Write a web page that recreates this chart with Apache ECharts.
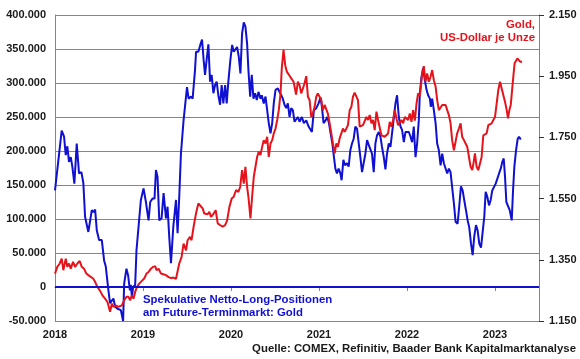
<!DOCTYPE html>
<html><head><meta charset="utf-8">
<script src="https://cdn.jsdelivr.net/npm/echarts@6/dist/echarts.min.js"></script>
<style>html,body{margin:0;padding:0;background:#fff}#c{width:580px;height:359px}</style>
</head><body><div id="c"></div>
<script>
// ---- data ----
const yearTicks = [2018, 2019, 2020, 2021, 2022, 2023];
const leftMin = -50000, leftMax = 400000, leftStep = 50000;
const goldTicks = [1150, 1350, 1550, 1750, 1950, 2150];
const goldLabel = 'Gold,\nUS-Dollar je Unze';
const netLongLabel = 'Spekulative Netto-Long-Positionen\nam Future-Terminmarkt: Gold';
const sourceLabel = 'Quelle: COMEX, Refinitiv, Baader Bank Kapitalmarktanalyse';

// [year, net long positions in thousands of contracts]
const netLongThousands = [[2018.000,142],[2018.076,230],[2018.103,221],[2018.122,194],[2018.140,207],[2018.159,184],[2018.179,191],[2018.197,177],[2018.220,152],[2018.247,211],[2018.273,167],[2018.300,169],[2018.322,153],[2018.342,103],[2018.356,101],[2018.379,81],[2018.395,79],[2018.418,113],[2018.436,110],[2018.456,114],[2018.475,83],[2018.501,69],[2018.532,69],[2018.558,39],[2018.577,30],[2018.607,-5],[2018.626,-24],[2018.646,-20],[2018.664,-17],[2018.683,-29],[2018.710,-32],[2018.748,-34],[2018.774,-50],[2018.786,5],[2018.812,27],[2018.831,17],[2018.851,-5],[2018.862,3],[2018.874,-15],[2018.888,0],[2018.911,3],[2018.926,54],[2018.949,88],[2018.976,128],[2019.006,145],[2019.033,125],[2019.063,98],[2019.082,125],[2019.108,130],[2019.131,130],[2019.147,172],[2019.165,162],[2019.185,98],[2019.211,101],[2019.234,138],[2019.261,101],[2019.279,118],[2019.298,74],[2019.318,35],[2019.344,88],[2019.375,128],[2019.393,79],[2019.412,133],[2019.431,196],[2019.461,245],[2019.500,294],[2019.518,277],[2019.546,280],[2019.564,277],[2019.591,319],[2019.603,346],[2019.629,346],[2019.651,356],[2019.671,364],[2019.689,334],[2019.705,312],[2019.723,334],[2019.743,357],[2019.762,302],[2019.780,312],[2019.800,285],[2019.819,297],[2019.837,302],[2019.856,282],[2019.876,268],[2019.894,297],[2019.913,270],[2019.933,297],[2019.951,270],[2019.970,302],[2019.993,334],[2020.013,356],[2020.031,346],[2020.050,348],[2020.069,353],[2020.088,339],[2020.107,314],[2020.126,373],[2020.145,389],[2020.164,383],[2020.183,358],[2020.198,319],[2020.218,280],[2020.236,312],[2020.255,277],[2020.274,285],[2020.293,275],[2020.312,287],[2020.335,277],[2020.350,282],[2020.372,270],[2020.392,280],[2020.411,260],[2020.429,241],[2020.449,226],[2020.468,241],[2020.486,270],[2020.506,290],[2020.532,292],[2020.551,290],[2020.571,282],[2020.589,277],[2020.608,268],[2020.628,263],[2020.646,270],[2020.665,250],[2020.684,263],[2020.703,260],[2020.722,243],[2020.760,250],[2020.779,243],[2020.805,250],[2020.828,241],[2020.855,245],[2020.882,236],[2020.904,238],[2020.919,228],[2020.942,260],[2020.969,263],[2020.995,270],[2021.018,279],[2021.033,265],[2021.052,241],[2021.075,245],[2021.095,250],[2021.113,241],[2021.132,226],[2021.152,211],[2021.170,191],[2021.186,174],[2021.204,167],[2021.223,174],[2021.243,167],[2021.257,157],[2021.277,187],[2021.295,179],[2021.318,182],[2021.337,177],[2021.356,201],[2021.375,211],[2021.394,218],[2021.413,236],[2021.432,233],[2021.451,231],[2021.470,191],[2021.489,169],[2021.508,167],[2021.527,196],[2021.546,216],[2021.565,209],[2021.584,211],[2021.602,196],[2021.622,169],[2021.641,211],[2021.659,223],[2021.679,228],[2021.698,221],[2021.716,206],[2021.736,191],[2021.755,173],[2021.773,196],[2021.793,211],[2021.812,206],[2021.830,226],[2021.850,228],[2021.869,270],[2021.887,282],[2021.907,250],[2021.926,236],[2021.944,231],[2021.964,213],[2021.983,228],[2022.001,226],[2022.021,228],[2022.040,221],[2022.058,213],[2022.077,236],[2022.097,191],[2022.115,211],[2022.134,245],[2022.146,285],[2022.165,309],[2022.183,322],[2022.203,304],[2022.222,290],[2022.240,282],[2022.260,277],[2022.271,265],[2022.286,277],[2022.305,260],[2022.325,241],[2022.343,211],[2022.362,201],[2022.382,179],[2022.400,196],[2022.419,182],[2022.439,184],[2022.457,167],[2022.476,174],[2022.495,169],[2022.513,147],[2022.533,123],[2022.552,96],[2022.575,93],[2022.593,118],[2022.613,148],[2022.632,142],[2022.650,128],[2022.670,113],[2022.689,98],[2022.707,88],[2022.727,64],[2022.746,47],[2022.764,74],[2022.784,91],[2022.803,83],[2022.821,64],[2022.841,58],[2022.860,59],[2022.878,103],[2022.894,140],[2022.912,133],[2022.932,120],[2022.951,128],[2022.969,142],[2022.989,142],[2023.008,152],[2023.026,159],[2023.046,167],[2023.065,174],[2023.083,184],[2023.099,189],[2023.114,162],[2023.129,125],[2023.148,123],[2023.167,113],[2023.190,98],[2023.205,142],[2023.220,177],[2023.239,201],[2023.258,218],[2023.273,221],[2023.293,217]];

// [year, gold price in USD per ounce]
const goldUsd = [[2018.000,1305],[2018.026,1327],[2018.054,1338],[2018.076,1354],[2018.095,1316],[2018.122,1354],[2018.140,1327],[2018.159,1338],[2018.179,1321],[2018.205,1343],[2018.228,1327],[2018.254,1338],[2018.281,1346],[2018.304,1327],[2018.330,1321],[2018.356,1305],[2018.379,1300],[2018.407,1294],[2018.433,1289],[2018.456,1278],[2018.482,1261],[2018.509,1250],[2018.539,1234],[2018.569,1223],[2018.596,1212],[2018.615,1207],[2018.626,1180],[2018.646,1207],[2018.664,1196],[2018.691,1201],[2018.718,1196],[2018.740,1191],[2018.760,1201],[2018.786,1218],[2018.812,1229],[2018.835,1229],[2018.854,1218],[2018.874,1234],[2018.892,1223],[2018.911,1245],[2018.931,1261],[2018.957,1272],[2018.987,1281],[2019.014,1289],[2019.040,1305],[2019.063,1310],[2019.090,1321],[2019.116,1327],[2019.139,1329],[2019.154,1316],[2019.177,1321],[2019.204,1305],[2019.230,1303],[2019.261,1300],[2019.287,1294],[2019.318,1290],[2019.344,1292],[2019.375,1288],[2019.393,1283],[2019.412,1338],[2019.438,1359],[2019.461,1403],[2019.489,1381],[2019.507,1414],[2019.534,1425],[2019.552,1414],[2019.575,1458],[2019.602,1501],[2019.629,1534],[2019.651,1539],[2019.678,1518],[2019.697,1501],[2019.716,1507],[2019.735,1499],[2019.754,1507],[2019.773,1490],[2019.803,1501],[2019.826,1512],[2019.849,1469],[2019.879,1463],[2019.905,1458],[2019.933,1463],[2019.956,1479],[2019.982,1523],[2020.008,1550],[2020.031,1556],[2020.058,1578],[2020.084,1572],[2020.104,1588],[2020.126,1643],[2020.145,1599],[2020.164,1654],[2020.183,1588],[2020.198,1556],[2020.221,1485],[2020.240,1556],[2020.259,1621],[2020.278,1654],[2020.297,1686],[2020.315,1703],[2020.335,1692],[2020.354,1719],[2020.372,1741],[2020.392,1730],[2020.411,1752],[2020.429,1686],[2020.449,1730],[2020.468,1741],[2020.486,1763],[2020.506,1779],[2020.525,1807],[2020.543,1839],[2020.563,1894],[2020.577,1976],[2020.597,2036],[2020.616,1986],[2020.634,1965],[2020.654,1965],[2020.673,1948],[2020.691,1954],[2020.711,1932],[2020.740,1890],[2020.760,1932],[2020.779,1921],[2020.798,1894],[2020.817,1910],[2020.836,1927],[2020.855,1950],[2020.874,1883],[2020.893,1872],[2020.912,1817],[2020.930,1828],[2020.950,1850],[2020.969,1883],[2020.987,1894],[2021.007,1899],[2021.026,1872],[2021.044,1839],[2021.064,1856],[2021.083,1861],[2021.101,1828],[2021.121,1796],[2021.140,1763],[2021.158,1730],[2021.178,1698],[2021.197,1730],[2021.215,1719],[2021.235,1747],[2021.254,1741],[2021.272,1779],[2021.292,1768],[2021.311,1779],[2021.329,1790],[2021.349,1839],[2021.368,1850],[2021.386,1883],[2021.405,1896],[2021.425,1894],[2021.443,1872],[2021.462,1785],[2021.482,1779],[2021.500,1790],[2021.519,1785],[2021.539,1817],[2021.557,1807],[2021.576,1823],[2021.596,1796],[2021.614,1807],[2021.633,1774],[2021.653,1834],[2021.671,1807],[2021.690,1801],[2021.709,1757],[2021.728,1752],[2021.747,1752],[2021.767,1757],[2021.785,1763],[2021.804,1801],[2021.823,1785],[2021.842,1807],[2021.861,1839],[2021.880,1812],[2021.899,1790],[2021.918,1785],[2021.937,1807],[2021.956,1796],[2021.975,1817],[2021.994,1823],[2022.013,1807],[2022.032,1828],[2022.051,1801],[2022.069,1839],[2022.089,1805],[2022.108,1860],[2022.126,1894],[2022.146,1885],[2022.171,1954],[2022.191,1983],[2022.210,1932],[2022.229,1959],[2022.248,1932],[2022.268,1948],[2022.286,1970],[2022.305,1937],[2022.325,1916],[2022.343,1872],[2022.362,1839],[2022.382,1845],[2022.400,1856],[2022.419,1859],[2022.439,1856],[2022.457,1839],[2022.476,1823],[2022.495,1796],[2022.513,1741],[2022.533,1708],[2022.552,1736],[2022.570,1763],[2022.590,1779],[2022.609,1796],[2022.627,1752],[2022.647,1741],[2022.666,1730],[2022.685,1719],[2022.704,1686],[2022.723,1654],[2022.742,1643],[2022.761,1676],[2022.772,1698],[2022.791,1654],[2022.810,1643],[2022.829,1641],[2022.848,1686],[2022.867,1757],[2022.886,1752],[2022.905,1763],[2022.924,1790],[2022.943,1796],[2022.962,1796],[2022.981,1807],[2023.000,1817],[2023.019,1861],[2023.038,1905],[2023.057,1932],[2023.076,1927],[2023.095,1888],[2023.114,1866],[2023.133,1839],[2023.148,1812],[2023.163,1839],[2023.179,1856],[2023.194,1861],[2023.208,1948],[2023.223,1992],[2023.239,1986],[2023.254,2008],[2023.270,2003],[2023.289,1997],[2023.308,1997]];

// ---- chart ----
const FONT = '"Liberation Sans", Arial, sans-serif';
const BLUE = '#1010d0', RED = '#e5131b', GRID = '#858585', TXT = '#1a1a1a';
function deNum(v) {
  const s = Math.abs(Math.round(v)).toString().replace(/\B(?=(\d{3})+(?!\d))/g, '.');
  return (v < 0 ? '-' : '') + s;
}
const labelBase = { color: TXT, fontFamily: FONT, fontWeight: 'bold', fontSize: 11 };
const noteFont = 'bold 11.4px ' + FONT;

const chart = echarts.init(document.getElementById('c'), null, { renderer: 'canvas' });
chart.setOption({
  animation: false,
  backgroundColor: '#fff',
  grid: { left: 55, right: 41, top: 15, bottom: 38 },
  xAxis: {
    type: 'value', min: 2018, max: 2023.5,
    axisLine: { show: true, lineStyle: { color: GRID, width: 1 } },
    axisTick: { show: true, customValues: yearTicks, length: 4, lineStyle: { color: GRID } },
    axisLabel: Object.assign({ customValues: yearTicks, formatter: v => String(v), margin: 8 }, labelBase),
    splitLine: { show: false }
  },
  yAxis: [{
    type: 'value', min: leftMin, max: leftMax, interval: leftStep,
    axisLine: { show: true, lineStyle: { color: GRID, width: 1 } },
    axisTick: { show: false },
    axisLabel: Object.assign({ formatter: deNum, margin: 9 }, labelBase),
    splitLine: { show: true, lineStyle: { color: GRID, width: 1 } }
  }, {
    type: 'value', position: 'right', min: goldTicks[0], max: goldTicks[goldTicks.length - 1],
    axisLine: { show: true, lineStyle: { color: GRID, width: 1 } },
    axisTick: { show: true, customValues: goldTicks, length: 5, lineStyle: { color: '#333' } },
    axisLabel: Object.assign({ customValues: goldTicks, formatter: deNum, margin: 10 }, labelBase),
    splitLine: { show: false }
  }],
  series: [{
    name: 'Netto-Long', type: 'line', yAxisIndex: 0, showSymbol: false, symbol: 'none',
    data: netLongThousands.map(p => [p[0], p[1] * 1000]),
    lineStyle: { color: BLUE, width: 2 }, itemStyle: { color: BLUE },
    markLine: {
      silent: true, symbol: 'none', label: { show: false }, animation: false,
      lineStyle: { color: BLUE, width: 2, type: 'solid' },
      data: [{ yAxis: 0 }]
    }
  }, {
    name: 'Gold', type: 'line', yAxisIndex: 1, showSymbol: false, symbol: 'none',
    data: goldUsd,
    lineStyle: { color: RED, width: 2 }, itemStyle: { color: RED }
  }],
  graphic: [{
    type: 'text', x: 535, y: 18,
    style: { text: goldLabel, align: 'right', verticalAlign: 'top', fill: RED, font: noteFont, lineHeight: 13 }
  }, {
    type: 'text', x: 143, y: 293,
    style: { text: netLongLabel, align: 'left', verticalAlign: 'top', fill: BLUE, font: noteFont, lineHeight: 13 }
  }, {
    type: 'text', x: 576, y: 342,
    style: { text: sourceLabel, align: 'right', verticalAlign: 'top', fill: TXT, font: noteFont, lineHeight: 13 }
  }]
});
</script></body></html>
